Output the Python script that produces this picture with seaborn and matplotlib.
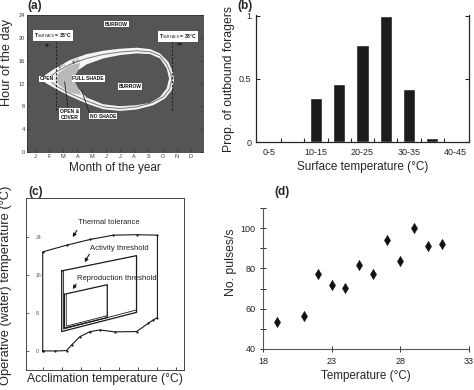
import numpy as np
import pandas as pd
import matplotlib
matplotlib.use("Agg")
import matplotlib.pyplot as plt
import seaborn as sns

# ---- panel (a): activity window, months (J=0) vs hour of the day ----
months = ["J", "F", "M", "A", "M", "J", "J", "A", "S", "O", "N", "D"]
outer_m = [0.40, 0.82, 1.53, 2.47, 3.65, 4.82, 6.00, 7.18, 8.12, 8.82, 9.41, 9.72, 9.81,
           9.65, 9.18, 8.35, 7.18, 6.00, 4.82, 3.65, 2.47, 1.53, 0.82]
outer_h = [12.76, 13.64, 14.81, 16.10, 17.15, 17.74, 18.09, 18.27, 18.03, 17.27, 15.81, 14.05, 12.59,
           10.83, 9.37, 8.20, 7.44, 7.20, 7.49, 8.49, 9.78, 11.01, 12.00]
mid_m = [0.94, 1.53, 2.47, 3.65, 4.82, 6.00, 7.18, 8.12, 8.82, 9.29, 9.58, 9.65,
         9.48, 9.06, 8.24, 7.18, 6.00, 4.82, 3.65, 2.47, 1.53, 0.94]
mid_h = [12.82, 14.05, 15.34, 16.39, 17.10, 17.51, 17.74, 17.56, 16.86, 15.40, 13.76, 12.59,
         10.95, 9.66, 8.61, 7.90, 7.61, 7.90, 8.96, 10.25, 11.53, 12.82]
shade_m = [1.45, 1.70, 2.47, 3.20, 3.06, 2.71, 3.06, 3.30, 2.47, 1.70]
shade_h = [12.80, 13.90, 15.20, 15.60, 14.34, 12.88, 11.12, 10.00, 10.40, 11.70]
burrow_m = [2.71, 3.06, 3.65, 4.82, 6.00, 7.18, 8.12, 8.82, 9.29, 9.46,
            9.29, 8.82, 8.12, 7.18, 6.00, 4.82, 3.65, 3.06]
burrow_h = [12.88, 14.34, 15.34, 16.39, 16.98, 17.27, 17.15, 16.39, 14.64, 12.88,
            11.12, 9.66, 8.61, 8.20, 8.02, 8.37, 9.54, 11.12]
tsurf_month = [1.48, 9.65]
tsurf_hours = [7.3, 19.3]

# ---- panel (b): proportion of outbound foragers ----
temp_bins = ["0-5", "5-10", "10-15", "15-20", "20-25", "25-30", "30-35", "35-40", "40-45"]
prop_foragers = [0.0, 0.0, 0.35, 0.46, 0.77, 1.0, 0.42, 0.03, 0.0]

# ---- panel (c): thermal envelopes (acclimation vs operative temperature) ----
tol_x = [0, 0, 6.3, 12.5, 18.6, 24.7, 30.2, 30.2, 29.1, 27.8, 24.7, 19.0, 15.1, 12.5, 9.8, 7.6, 6.3, 3.2, 0]
tol_y = [0, 20.8, 22.2, 23.4, 24.3, 24.4, 24.3, 7.0, 6.5, 5.8, 4.07, 4.0, 4.4, 4.07, 3.0, 1.26, 0.07, 0, 0]
act_x = [5.0, 24.7, 24.7, 5.0, 5.0]
act_y = [16.8, 20.0, 8.1, 4.07, 16.8]
act_in_x = [5.5, 5.5, 24.7]
act_in_y = [16.7, 4.6, 8.6]
rep_x = [5.7, 17.0, 17.0, 5.7, 5.7]
rep_y = [11.9, 13.9, 7.0, 4.8, 11.9]
rep_in_x = [6.2, 6.2, 17.0]
rep_in_y = [11.8, 5.2, 7.4]

# ---- panel (d): call rate vs temperature ----
temp_d = [19.0, 21.0, 22.0, 23.0, 24.0, 25.0, 26.0, 27.0, 28.0, 29.0, 30.0, 31.0]
pulses = [53.5, 56.6, 77.3, 71.7, 70.2, 81.8, 77.0, 94.2, 83.7, 100.2, 91.3, 91.9]

sns.set_style("ticks")
plt.rcParams["font.family"] = ["Liberation Sans", "DejaVu Sans"]

W, H = 474, 390
fig = plt.figure(figsize=(W / 100, H / 100), dpi=100)


def rect(x0, y0, x1, y1):
    return [x0 / W, 1 - y1 / H, (x1 - x0) / W, (y1 - y0) / H]


def ftext(x, y, s, **kw):
    fig.text(x / W, 1 - y / H, s, **kw)


dark = "#555555"
box = dict(boxstyle="square,pad=0.15", fc="white", ec="none")

# (a)
ax = fig.add_axes(rect(27, 15, 203, 152))
ax.set_facecolor(dark)
ax.fill(outer_m, outer_h, color="#f4f4f4", lw=0)
ax.fill(shade_m, shade_h, color="#b9b9b9", lw=0)
ax.fill(burrow_m, burrow_h, color=dark, lw=0)
ax.plot(mid_m + mid_m[:1], mid_h + mid_h[:1], color="#777777", lw=0.7)
for xm in tsurf_month:
    ax.plot([xm, xm], tsurf_hours, color="#222222", lw=0.8, ls=(0, (2, 1.5)))
ax.annotate("", xy=(0.47, 18.7), xytext=(1.2, 18.7),
            arrowprops=dict(arrowstyle="-|>", color="#222222", lw=0.7, mutation_scale=4))
ax.annotate("", xy=(10.6, 18.9), xytext=(9.8, 18.9),
            arrowprops=dict(arrowstyle="-|>", color="#222222", lw=0.7, mutation_scale=4))
lab = dict(fontsize=3.6, color="#111111", ha="center", va="center", bbox=box, fontweight="bold")
ax.text(1.3, 20.4, r"T$_{\rm SURFACE}$ = 38°C", **lab)
ax.text(10.1, 20.2, r"T$_{\rm SURFACE}$ = 38°C", **lab)
ax.text(5.76, 22.4, "BURROW", **lab)
ax.text(6.7, 11.5, "BURROW", **lab)
ax.text(3.76, 12.9, "FULL SHADE", **lab)
ax.text(0.82, 12.8, "OPEN", **lab)
ax.text(2.47, 6.6, "OPEN &\nCOVER", **lab)
ax.text(4.82, 6.3, "NO SHADE", **lab)
ax.plot([2.35, 2.1], [7.5, 12.3], color="#222222", lw=0.6)
ax.plot([3.88, 3.3], [6.6, 10.8], color="#222222", lw=0.6)
ax.text(1.95, 15.0, "38°C", fontsize=3, color="#222222", rotation=28, ha="center", va="center")
ax.text(2.95, 15.8, "43°C", fontsize=3, color="#222222", rotation=22, ha="center", va="center")
ax.set_xlim(-0.55, 11.85)
ax.set_ylim(0, 24)
ax.set_xticks(range(12))
ax.set_xticklabels(months)
ax.set_yticks(range(0, 25, 4))
ax.tick_params(direction="in", length=2, width=0.5, labelsize=4, colors="#333333",
               right=True, pad=1.5)
for s in ax.spines.values():
    s.set_color("#333333")
    s.set_linewidth(0.6)
ax.set_xlabel("Month of the year", fontsize=8.5, labelpad=2)
ftext(7, 62, "Hour of the day", fontsize=9.2, rotation=90, ha="center", va="center")
ftext(27, 0, "(a)", fontsize=8.5, fontweight="bold", va="top")

# (b)
axb = fig.add_axes(rect(256, 15, 469, 142))
sns.barplot(x=temp_bins, y=prop_foragers, color="#1c1c1c", width=0.52,
            saturation=1, ax=axb)
axb.set_xlim(-0.57, 8.57)
axb.set_ylim(0, 1.005)
axb.set_yticks([0, 0.5, 1])
axb.set_yticklabels(["0", "0.5", "1"])
axb.set_xticks(range(0, 9, 2))
axb.set_xticklabels(temp_bins[::2])
axb.set_xticks(np.arange(0.5, 8, 1), minor=True)
axb.tick_params(axis="x", which="major", length=0, labelsize=6.5, pad=4)
axb.tick_params(axis="x", which="minor", direction="in", length=3, width=0.8)
axb.tick_params(axis="y", direction="in", length=3, width=0.8, labelsize=6.5, right=True)
axb.spines["top"].set_visible(False)
for s in ["left", "bottom", "right"]:
    axb.spines[s].set_linewidth(0.9)
axb.set_xlabel("Surface temperature (°C)", fontsize=8.5, labelpad=3)
axb.set_ylabel("")
ftext(229, 79, "Prop. of outbound foragers", fontsize=8.8, rotation=90, ha="center", va="center")
ftext(237, 0, "(b)", fontsize=8.5, fontweight="bold", va="top")

# (c)
axc = fig.add_axes(rect(26, 198, 184, 370))
line = dict(color="#1a1a1a", sort=False, estimator=None, ax=axc)
sns.lineplot(x=tol_x, y=tol_y, lw=0.8, marker="o", markersize=1.6, markeredgewidth=0, **line)
sns.lineplot(x=act_x, y=act_y, lw=0.9, **line)
sns.lineplot(x=act_in_x, y=act_in_y, lw=0.6, **line)
sns.lineplot(x=rep_x, y=rep_y, lw=0.9, **line)
sns.lineplot(x=rep_in_x, y=rep_in_y, lw=0.6, **line)
arr = dict(arrowstyle="-|>", color="#1a1a1a", lw=0.8, mutation_scale=5)
axc.annotate("", xy=(7.5, 23.4), xytext=(9.4, 25.8), arrowprops=arr)
axc.annotate("", xy=(10.7, 18.1), xytext=(12.6, 20.8), arrowprops=arr)
axc.annotate("", xy=(7.5, 12.5), xytext=(9.2, 14.5), arrowprops=arr)
axc.text(9.4, 26.9, "Thermal tolerance", fontsize=5.5, color="#222222", va="center")
axc.text(12.5, 21.6, "Activity threshold", fontsize=5.5, color="#222222", va="center")
axc.text(9.1, 15.3, "Reproduction threshold", fontsize=5.5, color="#222222", va="center")
axc.set_xlim(-4.4, 37.2)
axc.set_ylim(-4.0, 32.1)
axc.set_xticks(range(0, 36, 5))
axc.set_yticks([0, 8, 16, 24])
axc.tick_params(axis="x", direction="in", length=2.5, width=0.6, labelbottom=False)
axc.tick_params(axis="y", direction="in", length=2, width=0.6, labelsize=3.8,
                colors="#555555", pad=-7)
for t in axc.get_yticklabels():
    t.set_horizontalalignment("left")
for s in axc.spines.values():
    s.set_color("#444444")
    s.set_linewidth(0.7)
axc.set_xlabel("Acclimation temperature (°C)", fontsize=8.7, labelpad=2)
ftext(6, 285, "Operative (water) temperature (°C)", fontsize=9.3, rotation=90,
      ha="center", va="center")
ftext(28, 186, "(c)", fontsize=8.5, fontweight="bold", va="top")

# (d)
axd = fig.add_axes(rect(263, 208, 469, 349))
sns.scatterplot(x=temp_d, y=pulses, marker="d", s=28, color="#111111",
                edgecolor="#111111", linewidth=0.3, ax=axd)
axd.set_xlim(18, 33)
axd.set_ylim(40, 110)
axd.set_xticks([18, 23, 28, 33])
axd.set_yticks([40, 60, 80, 100])
axd.set_yticks([50, 70, 90, 110], minor=True)
axd.tick_params(which="both", direction="inout", length=4, width=0.7, labelsize=6.5,
                colors="#333333", labelcolor="#222222")
sns.despine(ax=axd)
for s in ["left", "bottom"]:
    axd.spines[s].set_linewidth(0.8)
    axd.spines[s].set_color("#555555")
axd.set_xlabel("Temperature (°C)", fontsize=8.4, labelpad=3)
ftext(231, 262, "No. pulses/s", fontsize=8.8, rotation=90, ha="center", va="center")
ftext(274, 186, "(d)", fontsize=8.5, fontweight="bold", va="top")

fig.savefig("out.png", dpi=100)
